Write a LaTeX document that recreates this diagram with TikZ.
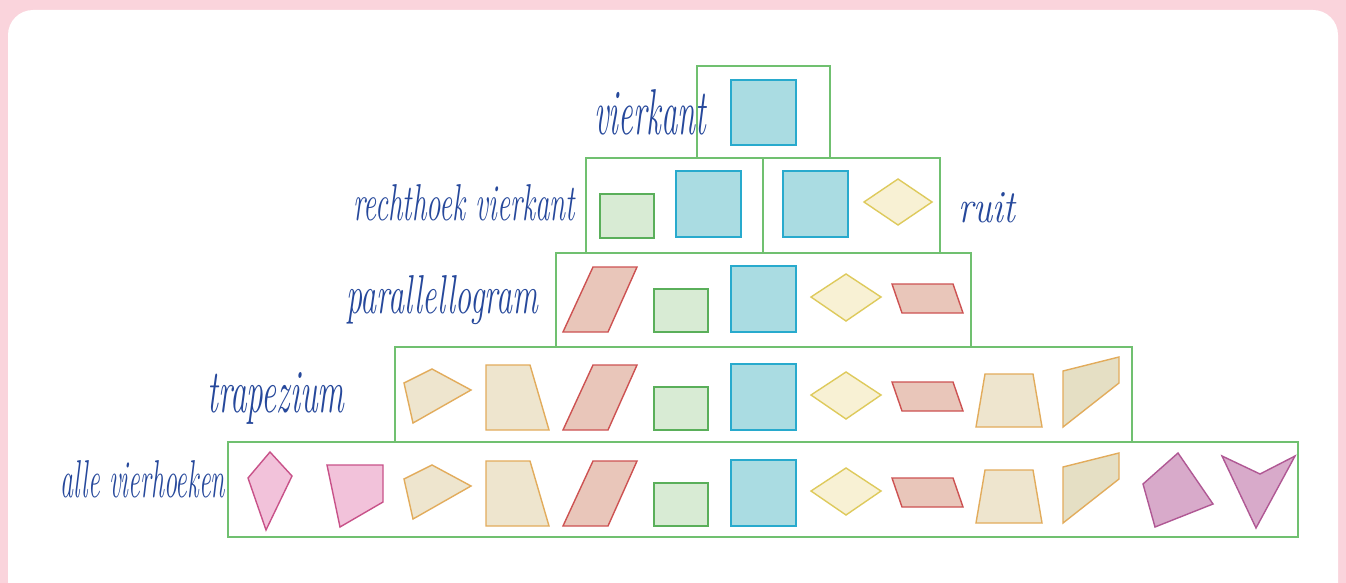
\documentclass[tikz,border=0pt]{standalone}
\usepackage{graphicx}
\definecolor{bgpink}{RGB}{250,212,220}
\definecolor{boxline}{RGB}{112,192,112}
\definecolor{ink}{RGB}{38,72,155}
\definecolor{bluefill}{RGB}{170,220,226}
\definecolor{blueline}{RGB}{40,170,205}
\definecolor{greenfill}{RGB}{216,235,212}
\definecolor{greenline}{RGB}{90,175,90}
\definecolor{yellowfill}{RGB}{248,241,212}
\definecolor{yellowline}{RGB}{222,202,92}
\definecolor{redfill}{RGB}{233,198,186}
\definecolor{redline}{RGB}{205,82,82}
\definecolor{tanfill}{RGB}{238,229,206}
\definecolor{tanline}{RGB}{226,172,92}
\definecolor{tandark}{RGB}{229,223,196}
\definecolor{pinkfill}{RGB}{242,194,218}
\definecolor{pinkline}{RGB}{200,82,137}
\definecolor{purplefill}{RGB}{216,170,202}
\definecolor{purpleline}{RGB}{176,88,148}
\newcommand{\hand}{\normalfont\itshape\fontsize{30}{32}\selectfont}
\tikzset{
  rowbox/.style={draw=boxline, line width=1.2pt},
  sqshape/.style={fill=bluefill, draw=blueline, line width=1.4pt},
  rectshape/.style={fill=greenfill, draw=greenline, line width=1.4pt},
  rhombshape/.style={fill=yellowfill, draw=yellowline, line width=1.4pt},
  parshape/.style={fill=redfill, draw=redline, line width=1.4pt},
  trapshape/.style={fill=tanfill, draw=tanline, line width=1.4pt},
  trapdark/.style={fill=tandark, draw=tanline, line width=1.4pt},
  pinkshape/.style={fill=pinkfill, draw=pinkline, line width=1.4pt},
  purpleshape/.style={fill=purplefill, draw=purpleline, line width=1.4pt},
  label/.style={inner sep=0pt, text=ink, font=\hand, anchor=base west},
}
\begin{document}
\begin{tikzpicture}[x=1pt,y=-1pt]
\useasboundingbox (0,0) rectangle (1346,583);
\fill[bgpink] (0,0) rectangle (1346,583);
\fill[white, rounded corners=25pt] (8,10) rectangle (1338,610);

% row boxes
\draw[rowbox] (697,66) rectangle (830,158);
\draw[rowbox] (586,158) rectangle (763,253);
\draw[rowbox] (763,158) rectangle (940,253);
\draw[rowbox] (556,253) rectangle (971,347);
\draw[rowbox] (395,347) rectangle (1132,442);
\draw[rowbox] (228,442) rectangle (1298,537);

% top: vierkant
\draw[sqshape] (731,80) rectangle (796,145);
% row 2
\draw[rectshape] (600,194) rectangle (654,238);
\draw[sqshape] (676,171) rectangle (741,237);
\draw[sqshape] (783,171) rectangle (848,237);
\draw[rhombshape] (864,202) -- (898,179) -- (932,202) -- (898,225) -- cycle;

% rows 3,4,5 common shapes (row 4 coordinates)
\foreach \dy in {-98,0,96}{
\begin{scope}[shift={(0,\dy)}]
\draw[parshape] (563,430) -- (593,365) -- (637,365) -- (608,430) -- cycle;
\draw[rectshape] (654,387) rectangle (708,430);
\draw[sqshape] (731,364) rectangle (796,430);
\draw[rhombshape] (811,395) -- (846,372) -- (881,395) -- (846,419) -- cycle;
\draw[parshape] (892,382) -- (953,382) -- (963,411) -- (902,411) -- cycle;
\end{scope}}
\foreach \dy in {0,96}{
\begin{scope}[shift={(0,\dy)}]
\draw[trapshape] (404,383) -- (432,369) -- (471,390) -- (413,423) -- cycle;
\draw[trapshape] (486,365) -- (530,365) -- (549,430) -- (486,430) -- cycle;
\draw[trapshape] (985,374) -- (1033,374) -- (1042,427) -- (976,427) -- cycle;
\draw[trapdark] (1063,371) -- (1119,357) -- (1119,383) -- (1063,427) -- cycle;
\end{scope}}
% row 5 extra shapes
\draw[pinkshape] (270,452) -- (292,476) -- (266,530) -- (248,478) -- cycle;
\draw[pinkshape] (327,465) -- (383,465) -- (383,502) -- (340,527) -- cycle;
\draw[purpleshape] (1143,484) -- (1178,453) -- (1213,504) -- (1155,527) -- cycle;
\draw[purpleshape] (1222,456) -- (1260,474) -- (1295,456) -- (1256,528) -- cycle;

% handwritten labels
\node[label] (lvierkant) at (594,135) {\resizebox{112pt}{45pt}{vierkant}};
\node[label] (lrecht) at (353,220) {\resizebox{222pt}{36pt}{rechthoek vierkant}};
\node[label] (lruit) at (958,222) {\resizebox{57pt}{30pt}{ruit}};
\node[label] (lpar) at (346,313) {\resizebox{192pt}{38pt}{parallellogram}};
\node[label] (ltrap) at (207,412) {\resizebox{137pt}{40pt}{trapezium}};
\node[label] (lalle) at (60,497) {\resizebox{165pt}{37pt}{alle vierhoeken}};
\end{tikzpicture}
\end{document}
